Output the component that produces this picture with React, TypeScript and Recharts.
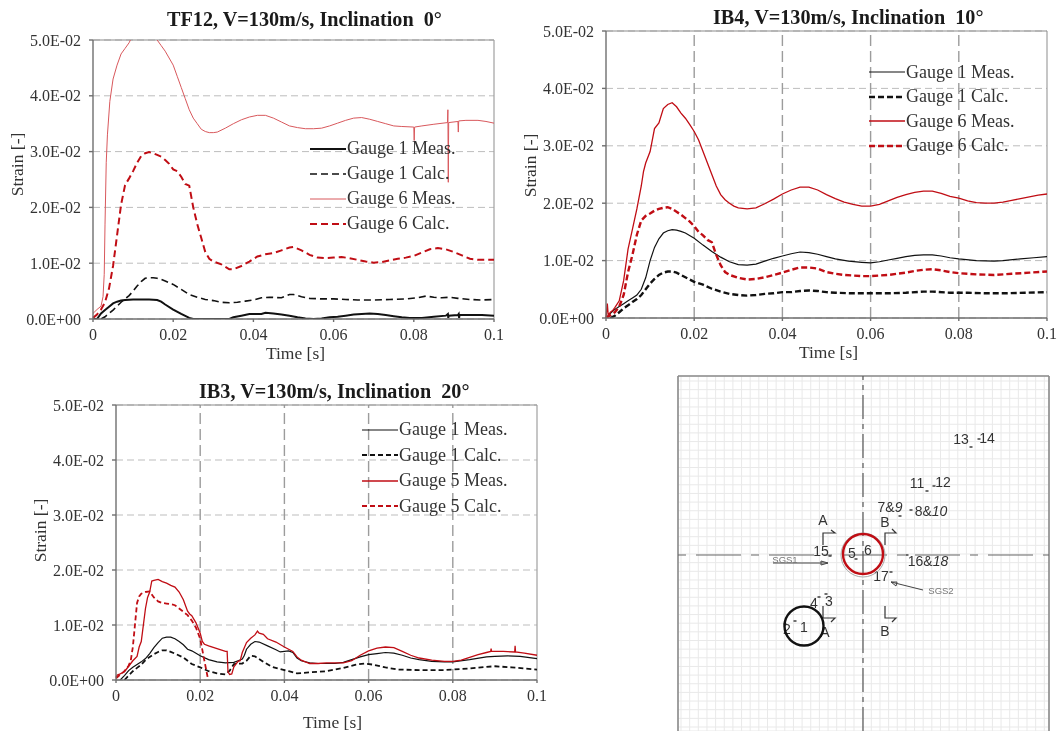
import React from 'react';
import {
  ComposedChart, LineChart, Line, Scatter, XAxis, YAxis, CartesianGrid, Legend, ReferenceLine, ReferenceDot,
} from 'recharts';

type Pair = [number, number];

const FONT = '"Liberation Serif", "Times New Roman", serif';
const TEXT = '#333333';
const BLACK = '#111111';
const RED = '#c00d14';

const timeTicks = [0, 0.02, 0.04, 0.06, 0.08, 0.1];
const timeLabels = ['0', '0.02', '0.04', '0.06', '0.08', '0.1'];
const strainTicks = [0, 0.01, 0.02, 0.03, 0.04, 0.05];
const strainLabels = ['0.0E+00', '1.0E-02', '2.0E-02', '3.0E-02', '4.0E-02', '5.0E-02'];

// all pairs below are [time in ms, strain in 1e-3]
const tf12Gauge1Meas: Pair[] = [[0,0],[1,0],[1.5,0.5],[2,1],[3,1.6],[4,2.2],[5,2.8],[6,3.1],[7,3.3],[8,3.4],[10,3.5],[12,3.5],[14,3.5],[16,3.4],[17,3.1],[18,2.6],[20,1.7],[22,0.9],[24,0.2],[25,0],[34,0],[35,0.3],[37,0.6],[39,0.9],[42,0.9],[43,1.1],[45,1],[47,0.8],[49,0.6],[51,0.3],[53,0.1],[55,0],[57,0.1],[59,0.3],[61,0.4],[63,0.6],[65,0.8],[67,0.9],[69,1],[71,0.9],[73,0.7],[75,0.5],[77,0.3],[79,0.2],[82,0.2],[85,0.4],[88,0.6],[88.5,0.9],[88.6,0.2],[88.7,0.6],[91,0.7],[91.2,0.9],[91.3,0.2],[91.4,0.7],[94,0.7],[97,0.7],[100,0.6]];
const tf12Gauge1Calc: Pair[] = [[2,0],[3,0.4],[4,1],[5,1.6],[6,2.3],[7,3],[8,3.6],[9,4.2],[10,5],[11,5.9],[12,6.7],[13,7.3],[14,7.4],[15,7.4],[16,7.3],[17,7.1],[18,6.8],[20,6.2],[22,5.3],[24,4.4],[26,3.9],[28,3.5],[30,3.3],[32,3],[34,2.9],[36,3],[38,3.2],[40,3.4],[42,3.8],[44,3.9],[47,3.8],[49,4.4],[50,4.4],[52,4],[54,3.7],[57,3.6],[60,3.6],[63,3.5],[66,3.4],[70,3.4],[74,3.5],[78,3.6],[81,3.8],[83,4.1],[85,3.9],[87,3.8],[89,3.9],[91,3.7],[94,3.5],[97,3.4],[100,3.5]];
const tf12Gauge6Meas: Pair[] = [[0,1],[1,1.7],[2,2.3],[2.5,4],[2.8,8],[3,17],[3.3,28],[3.6,33],[4.2,39],[5,43],[6,45.5],[7,47.5],[8,48.5],[9,49.5],[10,51],[12,52],[15.5,50.5],[16,50],[17,49],[18,48],[20,45.5],[21,43.5],[22,41.5],[23,39.5],[24,37.5],[25,36],[26,35],[27,34],[28,33.6],[29,33.4],[30,33.4],[31,33.5],[33,34.2],[35,35],[37,35.7],[39,36.2],[41,36.5],[43,36.5],[45,36],[47,35.3],[49,34.6],[51,34.3],[53,34.1],[55,34.1],[57,34.2],[59,34.6],[61,35.1],[63,35.6],[65,36],[67,36.1],[69,35.8],[71,35.4],[73,35],[75,34.6],[77,34.5],[80,34.4],[80.1,32],[80.2,34.4],[82,34.6],[85,34.9],[88.4,35.2],[88.5,37.5],[88.6,24.5],[88.7,35.2],[91,35.4],[91.1,33.5],[91.2,35.5],[93,35.6],[96,35.6],[98,35.4],[100,35.1]];
const tf12Gauge6Calc: Pair[] = [[0,0.2],[1,0.8],[2,1.7],[3,3],[4,5.5],[5,9.5],[6,15],[7,20.5],[8,24],[9,25.2],[10,26.5],[11,28],[12,29.2],[13,29.7],[14,29.9],[15,29.7],[16,29.4],[17,29.1],[18,28.5],[19,27.8],[20,26.8],[21,26.5],[22,25.5],[23,24.2],[24,23.9],[25,20],[26,17],[27,14.5],[28,12],[29,10.8],[30,10.3],[32,9.8],[34,8.9],[35,8.9],[37,9.5],[39,10.3],[41,11.2],[43,11.6],[45,11.8],[47,12.3],[49,12.8],[50,12.9],[52,12.3],[54,11.5],[56,11],[58,10.9],[60,11],[62,11.1],[64,10.9],[66,10.6],[68,10.3],[70,10.1],[72,10.2],[74,10.5],[76,10.8],[78,11],[80,11.3],[82,11.9],[84,12.5],[86,12.7],[88,12.5],[90,12],[92,11.4],[94,10.8],[96,10.6],[100,10.6]];

const ib4Gauge1Meas: Pair[] = [[0,0],[1,0.8],[2,1.5],[3,2],[4,2.5],[5,3],[6,3.5],[7,4],[8,5],[9,7],[10,10],[11,12.3],[12,13.8],[13,14.8],[14,15.2],[15,15.4],[16,15.3],[17,15.1],[18,14.8],[20,13.9],[22,12.7],[24,11.6],[26,10.6],[28,9.8],[30,9.3],[32,9.2],[34,9.4],[36,9.9],[38,10.4],[40,10.8],[42,11.2],[44,11.5],[46,11.4],[48,11.1],[50,10.7],[52,10.3],[55,9.9],[58,9.7],[60,9.6],[62,9.8],[64,10.1],[66,10.4],[68,10.7],[70,10.9],[72,11],[74,11],[76,10.8],[78,10.5],[80,10.3],[84,10],[88,9.9],[90,10],[94,10.3],[97,10.5],[100,10.7]];
const ib4Gauge1Calc: Pair[] = [[1,0],[2,0.4],[3,1],[4,1.7],[5,2.2],[6,2.8],[7,3.3],[8,4],[9,5],[10,6],[11,6.8],[12,7.5],[13,7.9],[14,8.1],[15,8.1],[16,7.9],[17,7.5],[18,7.1],[20,6.3],[22,5.8],[24,5.1],[26,4.6],[28,4.2],[30,4],[32,3.9],[34,4],[36,4.2],[38,4.3],[40,4.5],[42,4.5],[44,4.7],[46,4.8],[48,4.7],[50,4.5],[52,4.4],[56,4.3],[60,4.3],[64,4.3],[68,4.4],[72,4.6],[74,4.6],[78,4.4],[82,4.4],[86,4.3],[90,4.3],[95,4.4],[100,4.5]];
const ib4Gauge6Meas: Pair[] = [[0,0],[0.3,2.5],[0.5,0.5],[1,1],[1.5,1.3],[2,1.8],[3,3],[4,6.5],[5,12],[6,15.5],[7,19],[8,23],[8.5,25.5],[9,27],[10,29],[11,33],[12,34],[13,36.5],[14,37.2],[15,37.5],[16,36.8],[17,35.7],[18,34.8],[19,33.7],[20,32.5],[21,31],[22,29],[23,27],[24,25],[25,23],[26,21.5],[27,20.6],[28,20],[29,19.5],[30,19.2],[32,19],[34,19.2],[36,19.9],[38,20.7],[40,21.6],[42,22.3],[44,22.8],[46,22.8],[48,22.3],[50,21.5],[52,20.8],[54,20.2],[56,19.8],[58,19.5],[60,19.5],[62,19.8],[64,20.4],[66,21],[68,21.5],[70,21.9],[72,22.1],[74,22.1],[76,21.7],[78,21.2],[80,20.9],[82,20.4],[84,20.1],[86,20],[88,20],[90,20.2],[92,20.5],[94,20.8],[96,21.1],[98,21.4],[100,21.6]];
const ib4Gauge6Calc: Pair[] = [[0,0],[1,0.5],[2,1],[3,2],[4,4],[5,8],[6,11],[7,14.5],[8,17],[9,17.8],[10,18.2],[11,18.7],[12,19],[13,19.2],[14,19.3],[15,19],[16,18.5],[17,18],[18,17.4],[19,16.8],[20,16],[21,15],[22,14.4],[23,13.6],[24,13.2],[25,11],[26,9.2],[27,8],[28,7.5],[30,7],[32,6.7],[34,6.8],[36,7.1],[38,7.5],[40,7.9],[42,8.4],[44,8.8],[46,8.8],[48,8.6],[50,8],[52,7.7],[54,7.5],[56,7.4],[58,7.3],[60,7.3],[62,7.4],[64,7.5],[66,7.7],[68,7.9],[70,8.2],[72,8.4],[74,8.5],[76,8.3],[78,8],[80,7.8],[84,7.6],[88,7.5],[92,7.7],[96,7.9],[100,8.1]];

const ib3Gauge1Meas: Pair[] = [[1,0],[2,0.8],[3,1.7],[4,2.3],[5,2.8],[6,3.3],[7,3.9],[8,4.8],[9,5.9],[10,6.8],[11,7.6],[12,7.8],[13,7.8],[14,7.5],[15,7],[16,6.4],[17,5.6],[18,5.3],[20,4.4],[22,3.7],[24,3.3],[26,3.1],[28,3.2],[29,3.5],[30,3.8],[30.5,4.5],[31,5.6],[32,6.5],[33,7],[34,6.9],[36,6.2],[38,5.5],[39,5.1],[41,5.3],[42,5],[43,4],[44,3.5],[46,3.1],[48,3],[52,3],[54,3.2],[56,3.7],[58,4.2],[60,4.6],[62,4.8],[64,5],[66,4.9],[68,4.5],[70,4],[72,3.7],[75,3.4],[78,3.3],[80,3.3],[84,3.7],[88,4.2],[90,4.3],[93,4.4],[96,4.3],[100,3.9]];
const ib3Gauge1Calc: Pair[] = [[2,0],[3,0.8],[4,1.6],[5,2.2],[6,2.8],[7,3.6],[8,4.2],[9,4.7],[10,5.1],[11,5.4],[12,5.4],[13,5.1],[14,4.8],[16,4.1],[18,2.9],[20,2.3],[22,1.6],[24,1.2],[26,1],[27,1.7],[28,2.9],[30,3],[31,3.5],[32,4.4],[33,4.3],[35,3.3],[37,2.4],[39,2],[41,1.6],[43,1.2],[46,1.4],[50,1.6],[54,2.2],[57,2.8],[59,3],[61,2.8],[64,2.3],[67,1.9],[72,1.8],[78,1.8],[84,2.1],[88,2.4],[90,2.5],[94,2.3],[100,1.9]];
const ib3Gauge5Meas: Pair[] = [[0,0.5],[0.3,0.9],[1,1.1],[2,1.5],[3,2.5],[4,3.5],[5,4.3],[5.5,6],[6,7],[7,13],[7.5,15],[8,16],[8.5,18],[9,18.1],[10,18.3],[11,17.9],[12,17.6],[13,17.2],[14,16.9],[15,16],[16,14.6],[17,12.5],[17.5,12],[18,11.7],[19,10.4],[20,8.5],[20.5,7],[21,6.5],[22,6.2],[24,5.7],[26,5.2],[26.4,5.2],[26.6,1.5],[27,1],[27.5,1.1],[28,2.4],[29,3.4],[29.5,3.5],[30,5],[31,6.8],[32,7.6],[33,8.2],[33.6,8.9],[34,8.5],[35,8.3],[36,7.5],[38,6.9],[40,6],[42,5.2],[43,4.2],[44,3.6],[46,3],[48,3],[50,3.1],[54,3.1],[56,3.5],[58,4.5],[60,5.3],[62,5.8],[64,6],[66,5.9],[68,5.2],[70,4.5],[72,4],[75,3.6],[78,3.4],[80,3.4],[82,3.6],[84,4.1],[86,4.6],[88,5],[89,5.2],[89.1,5.7],[89.2,5.2],[92,5.2],[94.7,5.1],[94.8,6.2],[94.9,5.1],[97,4.9],[100,4.5]];
const ib3Gauge5Calc: Pair[] = [[0,0.3],[1,1],[2,1.6],[3,2.6],[3.5,3.5],[4,6],[4.5,10],[5,14],[5.5,15.2],[6,15.7],[7,16],[8,16.1],[9,15],[10,14.3],[11,14],[12,13.9],[13,13.8],[14,13.6],[15,13],[16,12.4],[17,11.8],[18,10.8],[19,9.5],[20,7.5],[21,3.5],[21.9,0]];

// bottom right gauge layout, drawing units measured from the crossing of the centre lines
const diagramX = [-185, 186];
const diagramY = [-176, 179];
const diagramGridX = Array.from({ length: 43 }, (_, i) => -182 + i * 8.65);
const diagramGridY = Array.from({ length: 41 }, (_, i) => 174 - i * 8.65);
const diagramEdgeX = [-71, 0, 72, 116];
const diagramEdgeY = [103, 60, 34, -3, -38, -64];
const sectionMarks: Pair[][] = [
  [[-40, 10], [-40, 22], [-28, 22], [-32, 25]],
  [[22, 10], [22, 22], [33, 22], [29, 26]],
  [[-40, -51], [-40, -63], [-28, -63], [-32, -67]],
  [[22, -51], [22, -63], [33, -63], [29, -67]],
];
const sgsArrows: Pair[][] = [
  [[-90, -8], [-35, -8], [-42, -6], [-42, -10], [-35, -8]],
  [[60, -35], [28, -27], [34, -27], [33, -31], [28, -27]],
];
const gaugeMarks = [
  { x: 108, y: 108 }, { x: 116, y: 116 }, { x: 64, y: 64 }, { x: 71, y: 69 }, { x: 37, y: 39 }, { x: 48, y: 45 },
  { x: -7, y: -4 }, { x: -33, y: -1 }, { x: 44, y: 0 }, { x: 28, y: -17 }, { x: -44, y: -42 }, { x: -37, y: -39 },
  { x: -68, y: -66 }, { x: -78, y: -69 },
];
const gaugeLabels = [
  { x: 98, y: 116, text: '13' }, { x: 124, y: 117, text: '14' }, { x: 54, y: 72, text: '11' }, { x: 80, y: 73, text: '12' },
  { x: 27, y: 48, text: '7&', em: '9' }, { x: 68, y: 44, text: '8&', em: '10' }, { x: -11, y: 2, text: '5' }, { x: 5, y: 5, text: '6' },
  { x: -42, y: 4, text: '15' }, { x: 65, y: -6, text: '16&', em: '18' }, { x: 18, y: -21, text: '17' }, { x: -34, y: -46, text: '3' },
  { x: -49, y: -48, text: '4' }, { x: -59, y: -72, text: '1' }, { x: -76, y: -74, text: '2' },
  { x: -40, y: 35, text: 'A' }, { x: 22, y: 33, text: 'B' }, { x: -38, y: -77, text: 'A' }, { x: 22, y: -76, text: 'B' },
];
const sgsLabels = [{ x: -78, y: -4, text: 'SGS1' }, { x: 78, y: -35, text: 'SGS2' }];

const toPoints = (pairs: Pair[]) => pairs.map(([t, e]) => ({ t: t / 1000, e: e / 1000 }));
const toXY = (pairs: Pair[]) => pairs.map(([x, y]) => ({ x, y }));

interface SeriesDef {
  name: string;
  pairs: Pair[];
  color: string;
  width: number;
  dash?: string;
}

const LegendBox = ({ payload, rowHeight }: any) => (
  <div style={{ fontFamily: FONT, fontSize: 18, color: TEXT }}>
    {(payload || []).map((entry: any) => (
      <div key={entry.value} style={{ display: 'flex', alignItems: 'center', height: rowHeight }}>
        <svg width={36} height={8} style={{ flex: 'none' }}>
          <line
            x1={0}
            x2={36}
            y1={4}
            y2={4}
            stroke={entry.color}
            strokeWidth={entry.payload?.strokeWidth}
            strokeDasharray={entry.payload?.strokeDasharray}
          />
        </svg>
        <span style={{ marginLeft: 1, whiteSpace: 'nowrap' }}>{entry.value}</span>
      </div>
    ))}
  </div>
);

const Panel = ({ title, titleLeft, titleTop, left, top, width, height, margin, series, verticalLines, legendLeft, legendTop, rowHeight, labelDy, labelDx, xHeight, xOffset, xDx }: any) => (
  <div style={{ position: 'absolute', left, top, width, height }}>
    <LineChart width={width} height={height} margin={margin}>
      <CartesianGrid
        vertical={false}
        stroke="#bdbdbd"
        strokeDasharray="7 4"
      />
      {verticalLines && timeTicks.slice(1, 5).map((t) => (
        <ReferenceLine key={t} x={t} stroke="#9c9c9c" strokeWidth={1.4} strokeDasharray="11 5" />
      ))}
      <ReferenceLine y={0.05} stroke="#8c8c8c" strokeWidth={1.2} />
      <ReferenceLine x={0.1} stroke="#a0a0a0" strokeWidth={1.2} />
      <XAxis
        dataKey="t"
        type="number"
        domain={[0, 0.1]}
        ticks={timeTicks}
        interval={0}
        height={xHeight}
        tickSize={3}
        tickMargin={7}
        stroke="#6f6f6f"
        strokeWidth={1.4}
        tick={{ fontFamily: FONT, fontSize: 16, fill: TEXT }}
        tickFormatter={(_: number, i: number) => timeLabels[i]}
        label={{ value: 'Time [s]', position: 'insideBottom', offset: xOffset, dx: xDx, fontFamily: FONT, fontSize: 17.5, fill: TEXT }}
      />
      <YAxis
        type="number"
        domain={[0, 0.05]}
        ticks={strainTicks}
        interval={0}
        allowDataOverflow
        width={80}
        tickSize={4}
        tickMargin={8}
        stroke="#6f6f6f"
        strokeWidth={1.4}
        tick={{ fontFamily: FONT, fontSize: 16, fill: TEXT }}
        tickFormatter={(_: number, i: number) => strainLabels[i]}
        label={{ value: 'Strain [-]', angle: -90, position: 'insideLeft', dx: labelDx, dy: labelDy, style: { textAnchor: 'middle' }, fontFamily: FONT, fontSize: 17.5, fill: TEXT }}
      />
      <Legend
        layout="vertical"
        align="center"
        verticalAlign="middle"
        itemSorter={null}
        content={<LegendBox rowHeight={rowHeight} />}
        wrapperStyle={{ left: legendLeft, top: legendTop, width: 170, bottom: 'auto', right: 'auto' }}
      />
      {series.map((s: SeriesDef) => (
        <Line
          key={s.name}
          name={s.name}
          data={toPoints(s.pairs)}
          dataKey="e"
          type="linear"
          stroke={s.color}
          strokeWidth={s.width}
          strokeDasharray={s.dash}
          dot={false}
          activeDot={false}
          isAnimationActive={false}
        />
      ))}
    </LineChart>
    <div
      style={{
        position: 'absolute',
        left: titleLeft,
        top: titleTop,
        fontFamily: FONT,
        fontWeight: 'bold',
        fontSize: 20.2,
        color: '#1a1a1a',
        whiteSpace: 'pre',
      }}
    >
      {title}
    </div>
  </div>
);

const GaugeDiagram = () => (
  <div style={{ position: 'absolute', left: 660, top: 366, width: 398, height: 365 }}>
    <ComposedChart width={398} height={365} margin={{ top: 10, right: 9, bottom: 0, left: 18 }}>
      <CartesianGrid stroke="#e9e9e9" />
      <XAxis dataKey="x" type="number" domain={diagramX} ticks={diagramGridX} interval={0} hide />
      <YAxis dataKey="y" type="number" domain={diagramY} ticks={diagramGridY} interval={0} hide />
      <ReferenceLine x={diagramX[0]} stroke="#8a8a8a" strokeWidth={1.6} />
      <ReferenceLine x={diagramX[1]} stroke="#8a8a8a" strokeWidth={1.6} />
      <ReferenceLine y={diagramY[1]} stroke="#8a8a8a" strokeWidth={1.6} />
      {diagramEdgeX.map((x) => (
        <ReferenceLine key={x} stroke="#555" segment={[{ x, y: diagramY[1] + 1 }, { x, y: diagramY[1] - 2 }]} />
      ))}
      {diagramEdgeY.map((y) => (
        <ReferenceLine key={y} stroke="#555" segment={[{ x: diagramX[0] - 1, y }, { x: diagramX[0] + 2, y }]} />
      ))}
      <ReferenceLine y={0} stroke="#666" strokeWidth={1} strokeDasharray="8 10 45 10" />
      <ReferenceLine x={0} stroke="#555" strokeWidth={1.2} strokeDasharray="24 5 5 5" />
      {sectionMarks.map((mark, i) => (
        <Line key={`mark-${i}`} data={toXY(mark)} dataKey="y" type="linear" stroke="#333" strokeWidth={1.2} dot={false} activeDot={false} isAnimationActive={false} />
      ))}
      {sgsArrows.map((arrow, i) => (
        <Line key={`arrow-${i}`} data={toXY(arrow)} dataKey="y" type="linear" stroke="#444" strokeWidth={1} dot={false} activeDot={false} isAnimationActive={false} />
      ))}
      <Scatter
        data={gaugeMarks}
        isAnimationActive={false}
        shape={(p: any) => <rect x={p.cx - 1.5} y={p.cy - 0.7} width={3} height={1.4} fill="#333" />}
      />
      <Scatter
        data={gaugeLabels}
        isAnimationActive={false}
        shape={(p: any) => (
          <text x={p.cx} y={p.cy} textAnchor="middle" dominantBaseline="central" fontFamily="Liberation Sans, Arial, sans-serif" fontSize={14} fill="#333">
            {p.payload.text}
            {p.payload.em && <tspan fontStyle="italic">{p.payload.em}</tspan>}
          </text>
        )}
      />
      <Scatter
        data={sgsLabels}
        isAnimationActive={false}
        shape={(p: any) => (
          <text x={p.cx} y={p.cy} textAnchor="middle" dominantBaseline="central" fontFamily="Liberation Sans, Arial, sans-serif" fontSize={9.5} fill="#777">
            {p.payload.text}
          </text>
        )}
      />
      <ReferenceDot x={0} y={0} r={22} fill="none" stroke="#a8a8a8" strokeWidth={1} />
      <ReferenceDot x={0} y={1} r={20} fill="none" stroke={RED} strokeWidth={2.4} />
      <ReferenceDot x={-59} y={-71} r={19.5} fill="none" stroke={BLACK} strokeWidth={2.4} />
    </ComposedChart>
  </div>
);

const tf12Series: SeriesDef[] = [
  { name: 'Gauge 1 Meas.', pairs: tf12Gauge1Meas, color: BLACK, width: 2 },
  { name: 'Gauge 1 Calc.', pairs: tf12Gauge1Calc, color: BLACK, width: 1.6, dash: '7 4' },
  { name: 'Gauge 6 Meas.', pairs: tf12Gauge6Meas, color: '#d8585c', width: 1 },
  { name: 'Gauge 6 Calc.', pairs: tf12Gauge6Calc, color: RED, width: 2, dash: '7 4' },
];
const ib4Series: SeriesDef[] = [
  { name: 'Gauge 1 Meas.', pairs: ib4Gauge1Meas, color: BLACK, width: 1.2 },
  { name: 'Gauge 1 Calc.', pairs: ib4Gauge1Calc, color: BLACK, width: 2.4, dash: '6 3' },
  { name: 'Gauge 6 Meas.', pairs: ib4Gauge6Meas, color: RED, width: 1.3 },
  { name: 'Gauge 6 Calc.', pairs: ib4Gauge6Calc, color: RED, width: 2.4, dash: '6 3' },
];
const ib3Series: SeriesDef[] = [
  { name: 'Gauge 1 Meas.', pairs: ib3Gauge1Meas, color: BLACK, width: 1.2 },
  { name: 'Gauge 1 Calc.', pairs: ib3Gauge1Calc, color: BLACK, width: 1.8, dash: '5 3' },
  { name: 'Gauge 5 Meas.', pairs: ib3Gauge5Meas, color: RED, width: 1.3 },
  { name: 'Gauge 5 Calc.', pairs: ib3Gauge5Calc, color: RED, width: 1.8, dash: '5 3' },
];

export default function App() {
  return (
    <div style={{ position: 'absolute', left: 0, top: 0, width: 1058, height: 731, overflow: 'hidden', background: '#fff', filter: 'blur(0.4px)' }}>
      <Panel
        title={'TF12, V=130m/s, Inclination  0°'}
        titleLeft={167}
        titleTop={8}
        left={0}
        top={0}
        width={530}
        height={365}
        margin={{ top: 40, right: 36, bottom: 0, left: 13 }}
        series={tf12Series}
        verticalLines={false}
        legendLeft={310}
        legendTop={136}
        rowHeight={25}
        labelDx={-1}
        labelDy={-15}
        xHeight={46}
        xOffset={6}
        xDx={2}
      />
      <Panel
        title={'IB4, V=130m/s, Inclination  10°'}
        titleLeft={203}
        titleTop={6}
        left={510}
        top={0}
        width={548}
        height={365}
        margin={{ top: 31, right: 11, bottom: 1, left: 16 }}
        series={ib4Series}
        verticalLines
        legendLeft={359}
        legendTop={60}
        rowHeight={24.5}
        labelDx={-1}
        labelDy={-9}
        xHeight={46}
        xOffset={6}
        xDx={2}
      />
      <Panel
        title={'IB3, V=130m/s, Inclination  20°'}
        titleLeft={199}
        titleTop={15}
        left={0}
        top={365}
        width={560}
        height={366}
        margin={{ top: 40, right: 23, bottom: 3, left: 36 }}
        series={ib3Series}
        verticalLines
        legendLeft={362}
        legendTop={52}
        rowHeight={25.5}
        labelDx={-1}
        labelDy={-12}
        xHeight={48}
        xOffset={0}
        xDx={6}
      />
      <GaugeDiagram />
    </div>
  );
}
